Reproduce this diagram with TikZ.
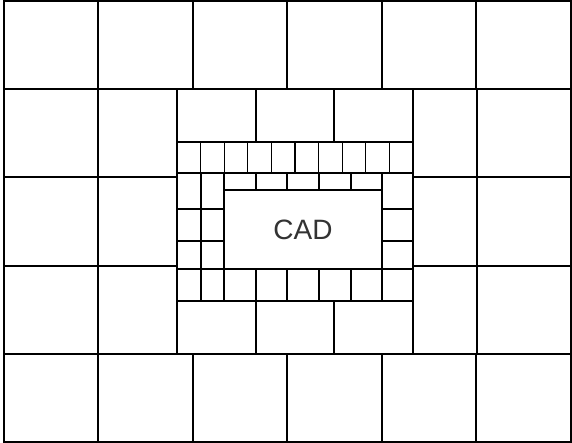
\documentclass[tikz,border=0pt]{standalone}
\usepackage{fontspec}
\setmainfont{Liberation Sans}
\begin{document}
\begin{tikzpicture}[x=1pt,y=-1pt,
  cell/.style={draw=black,line width=1.2pt,fill=white},
  lbl/.style={font=\fontsize{28}{32}\selectfont,text=black!80,inner sep=0pt}]
\useasboundingbox[fill=white] (0,0) rectangle (572,443);
% top and bottom outer rows
\foreach \a/\b in {4/98,98/193,193/287,287/382,382/476,476/571}{
  \draw[cell] (\a,1) rectangle (\b,89);
  \draw[cell] (\a,354) rectangle (\b,442);
}
% left and right outer columns (rows 2-4)
\foreach \t/\u in {89/177,177/266,266/354}{
  \draw[cell] (4,\t) rectangle (98,\u);
  \draw[cell] (98,\t) rectangle (177,\u);
  \draw[cell] (413,\t) rectangle (477,\u);
  \draw[cell] (477,\t) rectangle (571,\u);
}
% central top and bottom wide rows
\foreach \a/\b in {177/256,256/334,334/413}{
  \draw[cell] (\a,89) rectangle (\b,142);
  \draw[cell] (\a,301) rectangle (\b,354);
}
% small top row (10 cells)
\foreach \k in {0,...,9}{
  \draw[cell] ({177+\k*23.6},142) rectangle ({177+(\k+1)*23.6},173);
}
% left and right middle columns
\foreach \t/\u in {173/209,209/241,241/269}{
  \draw[cell] (177,\t) rectangle (201,\u);
  \draw[cell] (201,\t) rectangle (224,\u);
  \draw[cell] (382,\t) rectangle (413,\u);
}
% strip above CAD
\foreach \a/\b in {224/256,256/287,287/319,319/351,351/382}{
  \draw[cell] (\a,173) rectangle (\b,190);
}
% bottom small row
\foreach \a/\b in {177/201,201/224,224/256,256/287,287/319,319/351,351/382,382/413}{
  \draw[cell] (\a,269) rectangle (\b,301);
}
% CAD box
\draw[cell] (224,190) rectangle (382,269);
\node[lbl] (cad) at (303,229.5) {CAD};
\end{tikzpicture}
\end{document}
